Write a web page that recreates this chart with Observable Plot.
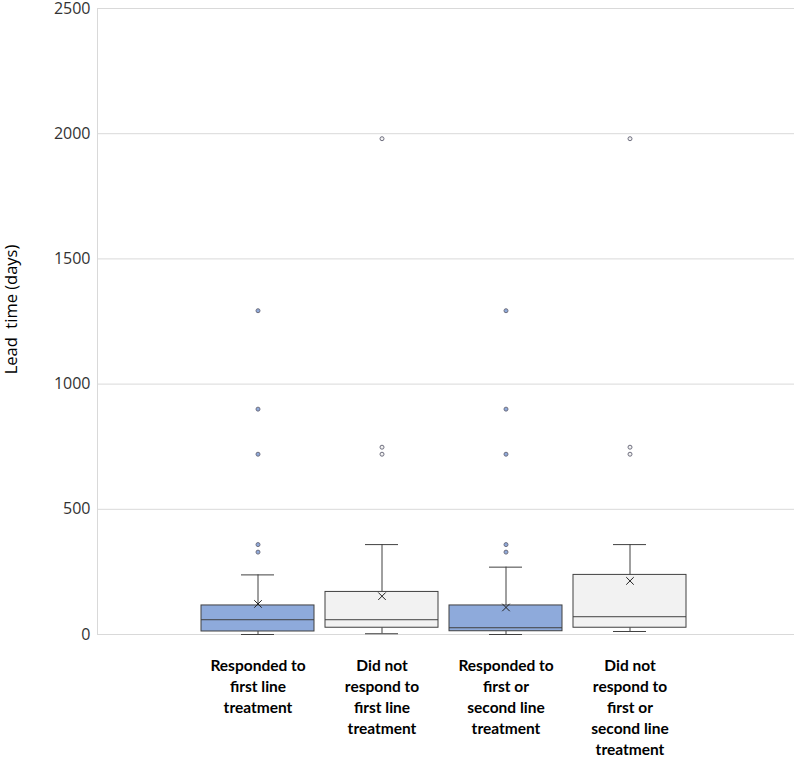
<!DOCTYPE html>
<html>
<head>
<meta charset="utf-8">
<script src="https://cdn.jsdelivr.net/npm/d3@7"></script>
<script src="https://cdn.jsdelivr.net/npm/@observablehq/plot@0.6"></script>
<style>
  html, body { margin: 0; padding: 0; background: #fff; }
  #chart svg { display: block; }
</style>
</head>
<body>
<div id="chart"></div>
<script>
const categories = ["R1", "N1", "R12", "N12"];
const categoryLabels = [
  "Responded to\nfirst line\ntreatment",
  "Did not\nrespond to\nfirst line\ntreatment",
  "Responded to\nfirst or\nsecond line\ntreatment",
  "Did not\nrespond to\nfirst or\nsecond line\ntreatment"
];
const whiskerLow = [0, 3, 0, 12];
const q1 = [12, 27, 13, 27];
const medians = [59, 59, 27, 71];
const q3 = [116, 170, 116, 238];
const whiskerHigh = [238, 359, 269, 359];
const means = [122, 153, 108, 214];
const outlierCats = ["R1","R1","R1","R1","R1","N1","N1","N1","R12","R12","R12","R12","R12","N12","N12","N12"];
const outlierValues = [1293, 900, 720, 359, 329, 1980, 748, 720, 1293, 900, 720, 359, 329, 1980, 748, 720];
const boxFills = ["#8eaadb", "#f2f2f2", "#8eaadb", "#f2f2f2"];
const outlierFills = ["#8eaadb", "#f2f2f2", "#8eaadb", "#f2f2f2"];
const yTicks = [0, 500, 1000, 1500, 2000, 2500];

const boxes = categories.map((c, i) => ({
  cat: c, low: whiskerLow[i], q1: q1[i], med: medians[i], q3: q3[i],
  high: whiskerHigh[i], mean: means[i], fill: boxFills[i]
}));
const outliers = outlierCats.map((c, i) => ({
  cat: c, value: outlierValues[i], fill: outlierFills[categories.indexOf(c)]
}));
const labelOf = Object.fromEntries(categories.map((c, i) => [c, categoryLabels[i]]));

const stroke = "#404040";
const grid = "#d9d9d9";

const chart = Plot.plot({
  width: 798,
  height: 759,
  marginLeft: 97,
  marginRight: 4,
  marginTop: 8,
  marginBottom: 125,
  style: { fontFamily: "'Open Sans', sans-serif", background: "#fff" },
  x: { type: "band", domain: categories, range: [194, 692], paddingInner: 0.09, paddingOuter: 0.045 },
  y: { domain: [0, 2500], range: [634, 8] },
  marks: [
    Plot.gridY(yTicks, { stroke: grid, strokeOpacity: 1 }),
    Plot.frame({ anchor: "left", stroke: grid, strokeOpacity: 1 }),
    Plot.axisY({ ticks: yTicks, tickSize: 0, tickPadding: 7, fontSize: 16, fill: "#333", tickFormat: d3.format("d"), label: null }),
    Plot.axisX({
      tickSize: 0, tickPadding: 22, fontSize: 15.5, fontWeight: "bold", lineHeight: 1.35,
      fontFamily: "Lato, sans-serif", fill: "#000", lineAnchor: "top",
      tickFormat: (d) => labelOf[d], label: null
    }),
    Plot.text(["Lead  time (days)"], {
      frameAnchor: "left", textAnchor: "middle", dx: -86, dy: -12, rotate: -90, fontSize: 16.5, fill: "#000"
    }),
    Plot.ruleX(boxes, { x: "cat", y1: "low", y2: "q1", stroke, strokeWidth: 1 }),
    Plot.ruleX(boxes, { x: "cat", y1: "q3", y2: "high", stroke, strokeWidth: 1 }),
    Plot.tickY(boxes, { x: "cat", y: "low", stroke, insetLeft: 40, insetRight: 40 }),
    Plot.tickY(boxes, { x: "cat", y: "high", stroke, insetLeft: 40, insetRight: 40 }),
    Plot.barY(boxes, { x: "cat", y1: "q1", y2: "q3", fill: "fill", stroke, strokeWidth: 1 }),
    Plot.tickY(boxes, { x: "cat", y: "med", stroke, strokeWidth: 1 }),
    Plot.dot(boxes, { x: "cat", y: "mean", symbol: "times", r: 3.5, stroke: "#222", strokeWidth: 1 }),
    Plot.dot(outliers, { x: "cat", y: "value", r: 2, fill: "fill", stroke: "#6f6f7f", strokeWidth: 1 })
  ]
});
document.getElementById("chart").appendChild(chart);
</script>
</body>
</html>
